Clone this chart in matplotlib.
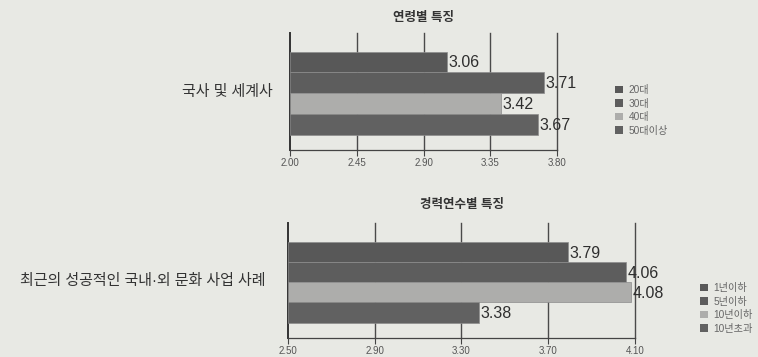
import matplotlib
matplotlib.use('Agg')
import matplotlib.pyplot as plt
from matplotlib.patches import Patch

plt.rcParams['font.family'] = ['Liberation Sans', 'Noto Sans CJK KR']

# 연령별 특징
age_title = '연령별 특징'
age_category = '국사 및 세계사'
age_groups = ['20대', '30대', '40대', '50대이상']
age_values = [3.06, 3.71, 3.42, 3.67]
age_ticks = [2.00, 2.45, 2.90, 3.35, 3.80]

# 경력연수별 특징
career_title = '경력연수별 특징'
career_category = '최근의 성공적인 국내·외 문화 사업 사례'
career_groups = ['1년이하', '5년이하', '10년이하', '10년초과']
career_values = [3.79, 4.06, 4.08, 3.38]
career_ticks = [2.50, 2.90, 3.30, 3.70, 4.10]

bar_colors = ['#585858', '#5d5d5d', '#adadab', '#616161']
paper = '#e8e9e4'
ink = '#333333'


def draw_panel(fig, rect, title, category, groups, values, ticks, ylim, legend_at, title_pad):
    ax = fig.add_axes(rect)
    ax.set_facecolor('none')
    lo = ticks[0]
    pos = list(range(len(values)))
    widths = [v - lo for v in values]
    ax.barh(pos, widths, left=lo, height=1.0, color=bar_colors,
            edgecolor='#8c8c8c', linewidth=0.5, zorder=3)
    for p, v in zip(pos, values):
        ax.text(v + (ticks[-1] - lo) * 0.005, p + 0.05, f'{v:.2f}', va='center', ha='left',
                fontsize=11.5, color='#2e2e2e', zorder=4)

    # vertical guide lines at every tick, including the right edge
    for t in ticks[1:]:
        ax.axvline(t, color='#4a4a4a', linewidth=1.0, zorder=1, clip_on=False)

    ax.set_xlim(ticks[0], ticks[-1])
    ax.set_ylim(*ylim)
    ax.set_xticks(ticks)
    ax.set_xticklabels([f'{t:.2f}' for t in ticks], fontsize=7, color='#555555')
    ax.set_yticks([])
    for side in ['top', 'right']:
        ax.spines[side].set_visible(False)
    ax.spines['left'].set_color('#333333')
    ax.spines['left'].set_linewidth(1.4)
    ax.spines['bottom'].set_color('#444444')
    ax.spines['bottom'].set_linewidth(0.9)
    ax.tick_params(axis='x', length=4, width=0.8, color='#444444', pad=2)

    ax.set_title(title, fontsize=9, fontweight='bold', color='#333333', pad=title_pad)
    ax.text(-0.065, 0.5, category, transform=ax.transAxes, ha='right', va='center',
            fontsize=10.8, fontweight='medium', color=ink)

    handles = [Patch(facecolor=c, edgecolor='none') for c in bar_colors]
    fig.legend(handles, groups, loc='upper left', bbox_to_anchor=legend_at,
               frameon=False, fontsize=7.3, labelcolor='#666666',
               handlelength=0.75, handleheight=0.75, handletextpad=0.6,
               labelspacing=0.35, borderpad=0)
    return ax


fig = plt.figure(figsize=(7.58, 3.57), dpi=100, facecolor=paper)

draw_panel(fig, [290 / 758, 1 - 150 / 357, 267 / 758, 117 / 357],
           age_title, age_category, age_groups, age_values, age_ticks,
           (4.23, -1.39), (610 / 758, 1 - 80 / 357), 8.5)
draw_panel(fig, [288 / 758, 1 - 338 / 357, 347 / 758, 115 / 357],
           career_title, career_category, career_groups, career_values, career_ticks,
           (4.27, -1.45), (695 / 758, 1 - 278 / 357), 10.5)

fig.savefig('out.png', dpi=100, facecolor=paper)
